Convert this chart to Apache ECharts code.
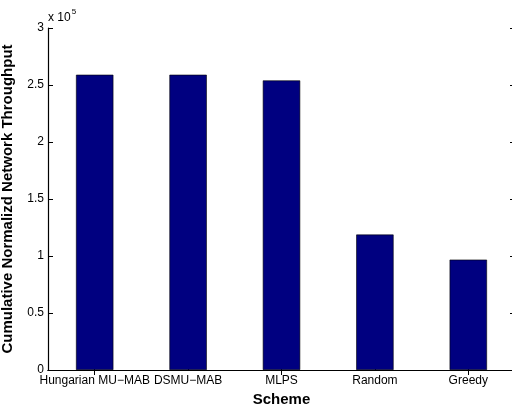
<!DOCTYPE html>
<html>
<head>
<meta charset="utf-8">
<style>
  html, body { margin: 0; padding: 0; background: #fff; }
  #chart { width: 512px; height: 404px; }
</style>
<script src="https://cdn.jsdelivr.net/npm/echarts@6/dist/echarts.min.js"></script>
</head>
<body>
<div id="chart"></div>
<script>
// Schemes compared
const categories = ['Hungarian MU\u2212MAB', 'DSMU\u2212MAB', 'MLPS', 'Random', 'Greedy'];
// Cumulative normalized network throughput per scheme
const throughput = [259000, 259000, 254000, 118800, 96800];
// Y tick scale (values shown in units of 10^5)
const yScale = 1e5;
const yMin = 0, yMax = 300000, yStep = 50000;

const FONT = '"Liberation Sans", Arial, Helvetica, sans-serif';

const chart = echarts.init(document.getElementById('chart'), null, { renderer: 'canvas' });

const tickStyle = { show: true, inside: true, length: 5, lineStyle: { color: '#000', width: 1 } };
const lineStyle = { show: true, lineStyle: { color: '#000', width: 1.2 } };

chart.setOption({
  animation: false,
  backgroundColor: '#fff',
  grid: { left: 48, top: 28, width: 467, height: 342, containLabel: false, outerBoundsMode: 'none' },
  xAxis: [
    {
      type: 'category',
      data: categories,
      position: 'bottom',
      axisLine: lineStyle,
      axisTick: Object.assign({ alignWithLabel: true }, tickStyle),
      axisLabel: { color: '#000', fontFamily: FONT, fontSize: 12, margin: 5, interval: 0 },
      name: 'Scheme',
      nameLocation: 'middle',
      nameGap: 18,
      nameTextStyle: { color: '#000', fontFamily: FONT, fontSize: 15, fontWeight: 'bold', verticalAlign: 'top' },
      splitLine: { show: false }
    },
    {
      type: 'category',
      data: categories,
      position: 'top',
      axisLine: lineStyle,
      axisTick: Object.assign({ alignWithLabel: true }, tickStyle),
      axisLabel: { show: false },
      splitLine: { show: false }
    }
  ],
  yAxis: [
    {
      type: 'value',
      min: yMin, max: yMax, interval: yStep,
      position: 'left',
      axisLine: lineStyle,
      axisTick: tickStyle,
      axisLabel: {
        color: '#000', fontFamily: FONT, fontSize: 12, margin: 4,
        formatter: v => String(v / yScale)
      },
      name: 'Cumulative Normalizd Network Throughput',
      nameLocation: 'middle',
      nameGap: 33,
      nameRotate: 90,
      nameTextStyle: { color: '#000', fontFamily: FONT, fontSize: 15, fontWeight: 'bold' },
      splitLine: { show: false }
    },
    {
      type: 'value',
      min: yMin, max: yMax, interval: yStep,
      position: 'right',
      axisLine: lineStyle,
      axisTick: tickStyle,
      axisLabel: { show: false },
      splitLine: { show: false }
    }
  ],
  series: [
    {
      type: 'bar',
      data: throughput,
      barWidth: '40%',
      itemStyle: { color: '#000080', borderColor: '#000', borderWidth: 0.6 }
    }
  ],
  graphic: [
    {
      type: 'text',
      left: 48,
      top: 8,
      style: {
        text: '{b|x 10}{s|5}',
        rich: {
          b: { fontFamily: FONT, fontSize: 12, fill: '#000', verticalAlign: 'bottom' },
          s: { fontFamily: FONT, fontSize: 8, fill: '#000', verticalAlign: 'top', padding: [0, 0, 8, 1] }
        }
      }
    }
  ]
});
</script>
</body>
</html>
